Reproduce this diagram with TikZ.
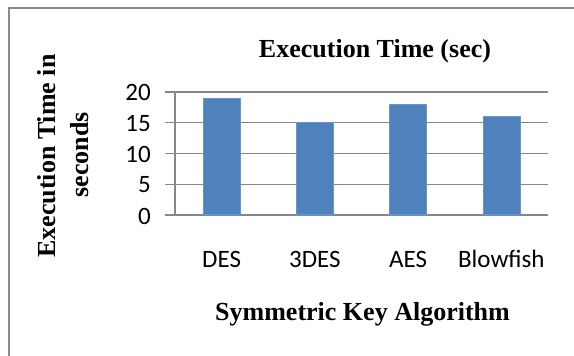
\documentclass[tikz,border=0pt]{standalone}
\usepackage{fontspec}
\setmainfont{Liberation Serif}
\newfontfamily\labelfont{Carlito}
\definecolor{barblue}{HTML}{4F81BD}
\definecolor{baredge}{HTML}{6A95CB}
\definecolor{gridgray}{HTML}{878787}
\definecolor{framegray}{HTML}{8C8C8C}
\begin{document}
\begin{tikzpicture}[x=1pt,y=-1pt,
  gridline/.style={draw=gridgray,line width=1.4pt},
  axisline/.style={draw=gridgray,line width=2pt},
  bar/.style={fill=barblue,draw=baredge,line width=0.6pt},
  ticklabel/.style={font=\labelfont\fontsize{25}{27}\selectfont,inner sep=0pt,anchor=east},
  catlabel/.style={font=\labelfont\fontsize{25}{27}\selectfont,inner sep=0pt,anchor=base},
  axtitle/.style={font=\bfseries\fontsize{26}{28}\selectfont,inner sep=0pt,anchor=base}]
  \useasboundingbox (0,0) rectangle (574,356);
  \clip (0,0) rectangle (574,356);
  % outer chart frame
  \draw[draw=framegray,line width=1.6pt] (9,8) rectangle (600,380);
  % horizontal gridlines with tick stubs, value v at y = 215 - 6.15 v
  \foreach \v in {5,10,15,20} {
    \draw[gridline] (165,{215-6.15*\v}) -- (548,{215-6.15*\v});
    \node[ticklabel] at (151,{215-6.15*\v+0.5}) {\v};
  }
  \node[ticklabel] at (151,216) {0};
  % value axis and category axis
  \draw[gridline] (175,92) -- (175,215);
  \draw[axisline] (165,215) -- (548,215);
  % bars
  \foreach \c/\v/\name [count=\i from 0] in {221.6/19/DES,314.9/15/3DES,408.1/18/AES,501.4/16/Blowfish} {
    \draw[bar] ({\c-18.5},214) rectangle ({\c+18.5},{215-6.15*\v});
    \node[catlabel] (cat\i) at (\c,267) {\name};
  }
  % titles
  \node[axtitle] (title) at (375,57) {Execution Time (sec)};
  \node[axtitle] (xtitle) at (362.5,320) {Symmetric Key Algorithm};
  \node[axtitle,rotate=90] (ytitleA) at (55,156) {Execution Time in};
  \node[axtitle,rotate=90] (ytitleB) at (88,155) {seconds};
\end{tikzpicture}
\end{document}
